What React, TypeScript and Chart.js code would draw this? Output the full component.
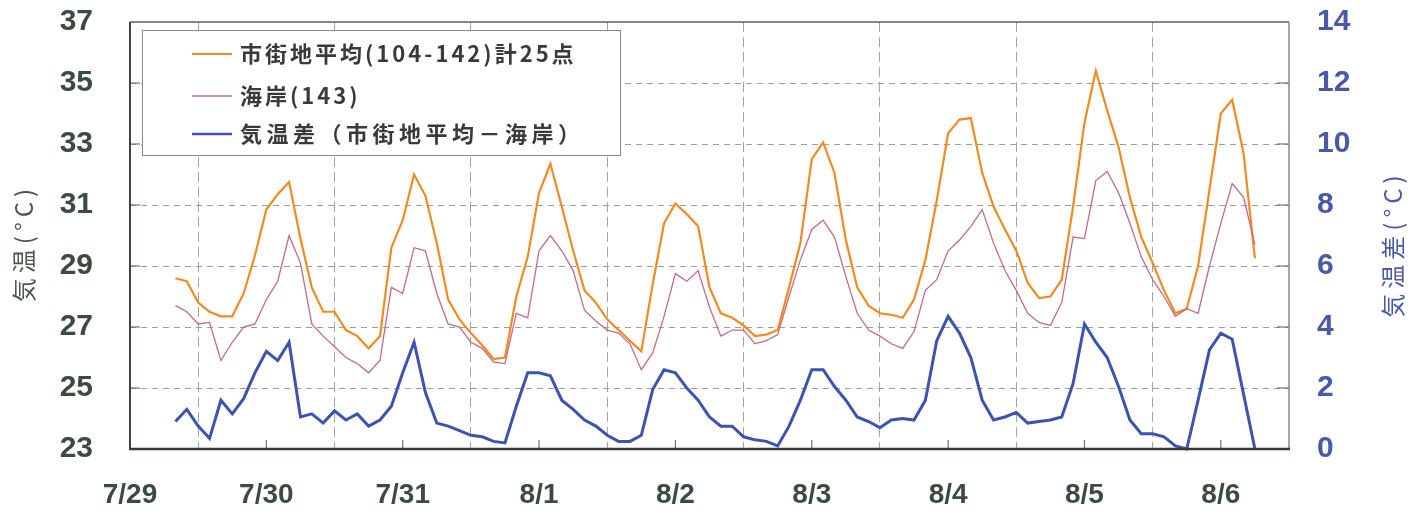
import { useEffect, useRef } from 'react';
import { Chart, registerables } from 'chart.js';

Chart.register(...registerables);

// x tick labels (one per day, 7/29 at the left edge)
const dateLabels = ['7/29', '7/30', '7/31', '8/1', '8/2', '8/3', '8/4', '8/5', '8/6'];

// samples every 2 hours, first sample 8 hours after the 7/29 mark
const startHour = 8;
const stepHours = 2;

// 市街地平均 (°C)
const cityAvg = [
  28.6, 28.5, 27.8, 27.5, 27.35, 27.35, 28.1, 29.35, 30.85, 31.35,
  31.75, 29.9, 28.3, 27.5, 27.5, 26.9, 26.7, 26.3, 26.7, 29.6,
  30.5, 32.0, 31.3, 29.75, 27.9, 27.25, 26.8, 26.4, 25.95, 26.0,
  28.0, 29.3, 31.4, 32.35, 30.95, 29.5, 28.2, 27.8, 27.25, 26.9,
  26.55, 26.2, 28.4, 30.4, 31.05, 30.7, 30.3, 28.3, 27.45, 27.3,
  27.05, 26.7, 26.75, 26.9, 28.3, 29.75, 32.5, 33.05, 32.05, 29.85,
  28.3, 27.7, 27.45, 27.4, 27.3, 27.9, 29.2, 31.15, 33.35, 33.8,
  33.85, 32.05, 30.95, 30.2, 29.5, 28.45, 27.95, 28.0, 28.55, 30.95,
  33.7, 35.4, 34.1, 32.9, 31.25, 29.95, 29.1, 28.2, 27.45, 27.6,
  29.0, 31.5, 34.0, 34.45, 32.7, 29.25,
];

// 海岸 (143) (°C)
const coast = [
  27.7, 27.5, 27.1, 27.15, 25.9, 26.5, 27.0, 27.1, 27.9, 28.5,
  30.0, 29.1, 27.1, 26.7, 26.35, 26.0, 25.8, 25.5, 25.9, 28.3,
  28.1, 29.6, 29.5, 28.1, 27.1, 27.0, 26.5, 26.3, 25.85, 25.8,
  27.45, 27.3, 29.5, 30.0, 29.5, 28.85, 27.55, 27.2, 26.9, 26.8,
  26.45, 25.6, 26.15, 27.35, 28.75, 28.5, 28.85, 27.65, 26.7, 26.9,
  26.9, 26.45, 26.55, 26.75, 28.0, 29.2, 30.2, 30.5, 29.95, 28.65,
  27.45, 26.9, 26.7, 26.45, 26.3, 26.85, 28.2, 28.55, 29.5, 29.85,
  30.3, 30.85, 29.75, 28.85, 28.2, 27.45, 27.15, 27.05, 27.8, 29.95,
  29.9, 31.8, 32.1, 31.4, 30.4, 29.3, 28.55, 28.0, 27.35, 27.6,
  27.45, 29.0, 30.4, 31.7, 31.25, 29.7,
];

// 気温差 (市街地平均 − 海岸) (°C)
const tempDiff = [
  0.9, 1.3, 0.75, 0.35, 1.6, 1.15, 1.65, 2.5, 3.2, 2.9,
  3.5, 1.05, 1.15, 0.85, 1.25, 0.95, 1.15, 0.75, 0.95, 1.4,
  2.5, 3.5, 1.85, 0.85, 0.75, 0.6, 0.45, 0.4, 0.25, 0.2,
  1.4, 2.5, 2.5, 2.4, 1.6, 1.3, 0.95, 0.75, 0.45, 0.25,
  0.25, 0.45, 1.95, 2.6, 2.5, 2.0, 1.6, 1.05, 0.75, 0.75,
  0.4, 0.3, 0.25, 0.1, 0.75, 1.6, 2.6, 2.6, 2.05, 1.6,
  1.05, 0.9, 0.7, 0.95, 1.0, 0.95, 1.6, 3.55, 4.35, 3.8,
  3.0, 1.6, 0.95, 1.05, 1.2, 0.85, 0.9, 0.95, 1.05, 2.15,
  4.1, 3.5, 3.0, 2.05, 0.95, 0.5, 0.5, 0.4, 0.1, 0.0,
  1.6, 3.25, 3.8, 3.6, 1.8, 0.0,
];

const legendNames = ['市街地平均(104-142)計25点', '海岸(143)', '気温差（市街地平均－海岸）'];
const leftTitle = '気温(°C)';
const rightTitle = '気温差(°C)';

const COL_CITY = '#f28a22';
const COL_COAST = '#c46a88';
const COL_DIFF = '#3d53b0';
const COL_LEFT = '#3c4b3f';
const COL_RIGHT = '#4a58a8';

const toPoints = (arr: number[]) =>
  arr.map((v, i) => ({ x: (startHour + i * stepHours) / 24, y: v }));

const framePlugin = {
  id: 'frameAndLegend',
  afterDraw(chart: any) {
    const { ctx, chartArea: a, scales } = chart;
    ctx.save();
    const line = (x1: number, y1: number, x2: number, y2: number) => {
      ctx.beginPath();
      ctx.moveTo(x1, y1);
      ctx.lineTo(x2, y2);
      ctx.stroke();
    };
    // inner tick marks
    ctx.strokeStyle = '#6b756b';
    ctx.lineWidth = 1.2;
    for (let i = 0; i < dateLabels.length; i++) {
      const x = scales.x.getPixelForValue(i);
      line(x, a.bottom, x, a.bottom - 9);
    }
    for (let v = 25; v < 37; v += 2) {
      const y = scales.y.getPixelForValue(v);
      line(a.left, y, a.left + 10, y);
      line(a.right, y, a.right - 12, y);
    }
    // frame
    ctx.strokeStyle = '#56625a';
    ctx.lineWidth = 1.6;
    line(a.left, a.top, a.right, a.top);
    ctx.strokeStyle = '#8c918c';
    ctx.lineWidth = 1.6;
    line(a.right, a.top, a.right, a.bottom);
    ctx.strokeStyle = '#3a483c';
    ctx.lineWidth = 2;
    line(a.left, a.top, a.left, a.bottom);
    ctx.strokeStyle = '#2f3c32';
    ctx.lineWidth = 2.6;
    line(a.left - 1, a.bottom, a.right + 1, a.bottom);

    // legend box
    const bx = 142, by = 30, bw = 478, bh = 125;
    ctx.fillStyle = '#ffffff';
    ctx.fillRect(bx, by, bw, bh);
    ctx.strokeStyle = '#8a8a8a';
    ctx.lineWidth = 1;
    ctx.strokeRect(bx + 0.5, by + 0.5, bw, bh);
    const cols = [COL_CITY, COL_COAST, COL_DIFF];
    const widths = [2, 1.6, 2.6];
    const spacing = ['3px', '3px', '4.5px'];
    const rowsY = [54, 96, 134];
    ctx.font = 'bold 22px "Noto Sans CJK JP", "Liberation Sans", sans-serif';
    ctx.textBaseline = 'middle';
    ctx.textAlign = 'left';
    for (let i = 0; i < legendNames.length; i++) {
      ctx.strokeStyle = cols[i];
      ctx.lineWidth = widths[i];
      line(192, rowsY[i], 232, rowsY[i]);
      ctx.fillStyle = '#3a3a3a';
      try { (ctx as any).letterSpacing = spacing[i]; } catch (e) {}
      ctx.fillText(legendNames[i], 240, rowsY[i]);
    }

    // axis titles (both read bottom-to-top)
    try { (ctx as any).letterSpacing = '5px'; } catch (e) {}
    ctx.font = '24px "Noto Sans CJK JP", sans-serif';
    ctx.textAlign = 'center';
    ctx.textBaseline = 'middle';
    ctx.save();
    ctx.translate(24, 243);
    ctx.rotate(-Math.PI / 2);
    ctx.fillStyle = '#4a584c';
    ctx.fillText(leftTitle, 0, 0);
    ctx.restore();
    ctx.save();
    ctx.translate(1393, 244);
    ctx.rotate(-Math.PI / 2);
    ctx.fillStyle = COL_RIGHT;
    ctx.fillText(rightTitle, 0, 0);
    ctx.restore();
    try { (ctx as any).letterSpacing = '0px'; } catch (e) {}

    ctx.restore();
  },
};

export default function App() {
  const canvasRef = useRef<HTMLCanvasElement | null>(null);

  useEffect(() => {
    if (!canvasRef.current) return;
    const tickFont = { family: '"Liberation Sans", Arial, sans-serif', weight: 'bold' as const, size: 30 };
    const fitY = (w: number) => (s: any) => {
      s.width = w;
      s.paddingTop = 0;
      s.paddingBottom = 0;
    };
    const chart = new Chart(canvasRef.current, {
      type: 'line',
      data: {
        datasets: [
          {
            label: legendNames[1],
            data: toPoints(coast),
            borderColor: COL_COAST,
            borderWidth: 1.3,
            pointRadius: 0,
            yAxisID: 'y',
          },
          {
            label: legendNames[0],
            data: toPoints(cityAvg),
            borderColor: COL_CITY,
            borderWidth: 2.2,
            pointRadius: 0,
            yAxisID: 'y',
          },
          {
            label: legendNames[2],
            data: toPoints(tempDiff),
            borderColor: COL_DIFF,
            borderWidth: 3,
            pointRadius: 0,
            yAxisID: 'y1',
            clip: false as any,
          },
        ],
      },
      options: {
        animation: false,
        responsive: true,
        maintainAspectRatio: false,
        layout: { padding: { top: 22, left: 0, right: 0, bottom: 0 } },
        plugins: { legend: { display: false }, tooltip: { enabled: false } },
        elements: { line: { tension: 0 } },
        scales: {
          x: {
            type: 'linear',
            min: 0,
            max: 8.5,
            afterFit: (s: any) => {
              s.height = 65;
              s.paddingLeft = 0;
              s.paddingRight = 0;
            },
            ticks: {
              stepSize: 0.5,
              autoSkip: false,
              maxRotation: 0,
              padding: 29,
              color: COL_LEFT,
              font: { ...tickFont, size: 28 },
              callback: (v: any) => (Number.isInteger(v) ? dateLabels[v] : ''),
            },
            grid: {
              drawTicks: false,
              lineWidth: 1,
              color: (c: any) =>
                c.tick && Math.abs((c.tick.value % 1) - 0.5) < 1e-6 && c.tick.value < 8.4
                  ? '#a4a4a4'
                  : 'rgba(0,0,0,0)',
            },
            border: { display: false, dash: [10, 5] },
          },
          y: {
            position: 'left',
            min: 23,
            max: 37,
            afterFit: fitY(130),
            ticks: { stepSize: 2, padding: 37, color: COL_LEFT, font: tickFont },
            grid: {
              drawTicks: false,
              color: (c: any) =>
                c.tick && c.tick.value > 23 && c.tick.value < 37 ? '#9c9c9c' : 'rgba(0,0,0,0)',
            },
            border: { display: false, dash: [6, 5] },
          },
          y1: {
            position: 'right',
            min: 0,
            max: 14,
            afterFit: fitY(128),
            ticks: { stepSize: 2, padding: 28, color: COL_RIGHT, font: tickFont },
            grid: { display: false, drawTicks: false },
            border: { display: false },
          },
        },
      },
      plugins: [framePlugin],
    } as any);
    return () => chart.destroy();
  }, []);

  return (
    <div style={{ position: 'fixed', left: 0, top: 0, width: 1417, height: 514, background: '#fff' }}>
      <canvas ref={canvasRef} />
    </div>
  );
}
